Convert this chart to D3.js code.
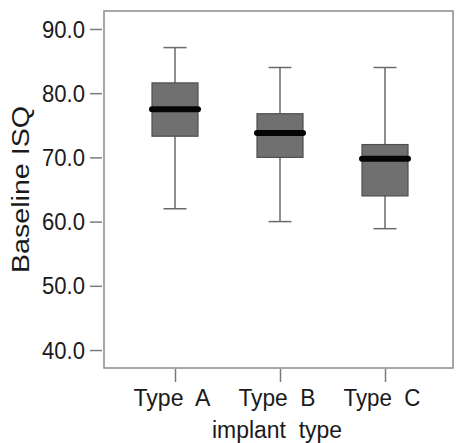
<!DOCTYPE html>
<html>
<head>
<meta charset="utf-8">
<script src="https://cdn.jsdelivr.net/npm/d3@7"></script>
<style>
  html, body { margin: 0; padding: 0; background: #ffffff; }
  svg { display: block; }
  text { font-family: "Liberation Sans", Arial, sans-serif; fill: #1a1a1a; }
</style>
</head>
<body>
<svg id="chart" width="463" height="443"></svg>
<script>
// ---- data ----
const categories = ["Type A", "Type B", "Type C"];
const tickLabels = ["Type  A", "Type  B", "Type  C"];
const whiskerLow  = [62.0, 60.0, 58.9];
const q1          = [73.3, 70.0, 64.0];
const medians     = [77.5, 73.8, 69.8];
const q3          = [81.6, 76.8, 72.0];
const whiskerHigh = [87.1, 84.0, 84.0];
const yTicks = [40, 50, 60, 70, 80, 90];
const xTitle = "implant  type";
const yTitle = "Baseline ISQ";

const svg = d3.select("#chart");
const frame = { left: 104, right: 453, top: 11, bottom: 368 };

const y = d3.scaleLinear().domain([37.2, 92.8]).range([frame.bottom, frame.top]);
const x = d3.scalePoint().domain(categories).range([175, 385]);

// frame
svg.append("rect")
  .attr("x", frame.left).attr("y", frame.top)
  .attr("width", frame.right - frame.left).attr("height", frame.bottom - frame.top)
  .attr("fill", "#ffffff").attr("stroke", "#8a8a8a").attr("stroke-width", 1.5);

// y axis
const yAxis = d3.axisLeft(y).tickValues(yTicks).tickFormat(d3.format(".1f")).tickSize(12).tickPadding(5);
const gy = svg.append("g").attr("transform", `translate(${frame.left - 2},0)`).call(yAxis);
gy.select(".domain").remove();
gy.selectAll(".tick line").attr("stroke", "#7a7a7a").attr("stroke-width", 1.5);
gy.selectAll(".tick text").attr("font-size", 24).attr("fill", "#1a1a1a")
  .attr("font-family", "'Liberation Sans', Arial, sans-serif").attr("dy", "0.34em")
  .attr("textLength", 43).attr("lengthAdjust", "spacingAndGlyphs");

// x axis
const xAxis = d3.axisBottom(x).tickFormat((d, i) => tickLabels[i]).tickSize(13).tickPadding(8);
const gx = svg.append("g").attr("transform", `translate(0,${frame.bottom + 1})`).call(xAxis);
gx.select(".domain").remove();
gx.selectAll(".tick line").attr("stroke", "#7a7a7a").attr("stroke-width", 1.5);
gx.selectAll(".tick text").attr("font-size", 24).attr("fill", "#1a1a1a")
  .attr("font-family", "'Liberation Sans', Arial, sans-serif")
  .attr("x", -3.5).attr("dy", "0.66em").style("white-space", "pre")
  .attr("textLength", 77).attr("lengthAdjust", "spacingAndGlyphs");

// axis titles
svg.append("text")
  .attr("x", 277).attr("y", 438)
  .attr("text-anchor", "middle").attr("font-size", 23)
  .attr("textLength", 130).attr("lengthAdjust", "spacingAndGlyphs")
  .style("white-space", "pre")
  .text(xTitle);

svg.append("text")
  .attr("transform", `translate(29,189.5) rotate(-90)`)
  .attr("text-anchor", "middle").attr("font-size", 23)
  .attr("textLength", 167).attr("lengthAdjust", "spacingAndGlyphs")
  .text(yTitle);

// boxes
const boxW = 46, capW = 23;
const rows = categories.map((c, i) => ({
  c, lo: whiskerLow[i], q1: q1[i], med: medians[i], q3: q3[i], hi: whiskerHigh[i]
}));
const g = svg.append("g");
const b = g.selectAll("g.box").data(rows).join("g").attr("class", "box");

b.append("line") // upper whisker
  .attr("x1", d => x(d.c)).attr("x2", d => x(d.c))
  .attr("y1", d => y(d.hi)).attr("y2", d => y(d.q3))
  .attr("stroke", "#6a6a6a").attr("stroke-width", 1.5);
b.append("line") // lower whisker
  .attr("x1", d => x(d.c)).attr("x2", d => x(d.c))
  .attr("y1", d => y(d.q1)).attr("y2", d => y(d.lo))
  .attr("stroke", "#6a6a6a").attr("stroke-width", 1.5);
b.append("line") // top cap
  .attr("x1", d => x(d.c) - capW / 2).attr("x2", d => x(d.c) + capW / 2)
  .attr("y1", d => y(d.hi)).attr("y2", d => y(d.hi))
  .attr("stroke", "#6a6a6a").attr("stroke-width", 1.5);
b.append("line") // bottom cap
  .attr("x1", d => x(d.c) - capW / 2).attr("x2", d => x(d.c) + capW / 2)
  .attr("y1", d => y(d.lo)).attr("y2", d => y(d.lo))
  .attr("stroke", "#6a6a6a").attr("stroke-width", 1.5);
b.append("rect")
  .attr("x", d => x(d.c) - boxW / 2).attr("width", boxW)
  .attr("y", d => y(d.q3)).attr("height", d => y(d.q1) - y(d.q3))
  .attr("fill", "#707070").attr("stroke", "#4e4e4e").attr("stroke-width", 1.2);
b.append("line") // median
  .attr("x1", d => x(d.c) - boxW / 2).attr("x2", d => x(d.c) + boxW / 2)
  .attr("y1", d => y(d.med)).attr("y2", d => y(d.med))
  .attr("stroke", "#050505").attr("stroke-width", 6).attr("stroke-linecap", "round");
</script>
</body>
</html>
